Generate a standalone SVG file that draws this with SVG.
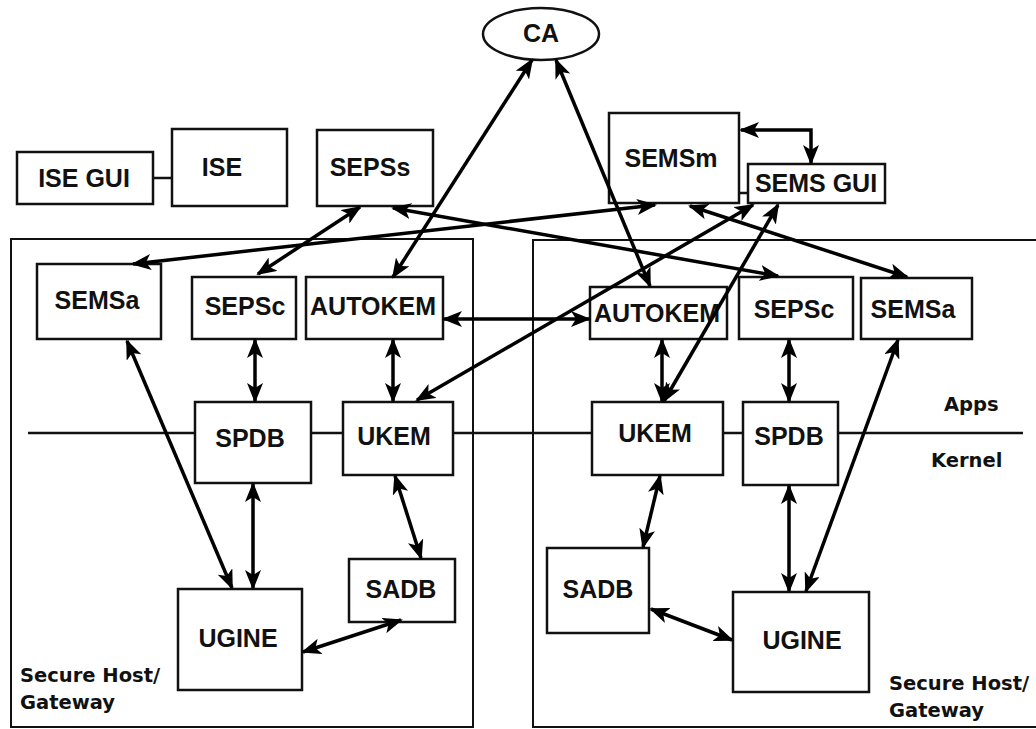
<svg xmlns="http://www.w3.org/2000/svg" width="1036" height="729" viewBox="0 0 1036 729">
  <defs>
    <marker id="arr" viewBox="0 0 20 16" refX="18" refY="8" markerWidth="20" markerHeight="16" markerUnits="userSpaceOnUse" orient="auto-start-reverse">
      <path d="M0,0 L20,8 L0,16 L5,8 Z" fill="#000"/>
    </marker>
    <style>
      .box { fill: #fff; stroke: #111; stroke-width: 2.5; }
      .zone { fill: none; stroke: #111; stroke-width: 2; }
      .lbl { font-family: "Liberation Sans", Arial, sans-serif; font-weight: bold; font-size: 25px; fill: #111; text-anchor: middle; }
      .note { font-family: "DejaVu Sans", Verdana, sans-serif; font-weight: bold; font-size: 19.5px; fill: #111; }
      .con { fill: none; stroke: #000; stroke-width: 3.5; marker-start: url(#arr); marker-end: url(#arr); }
      .plain { fill: none; stroke: #111; stroke-width: 2.5; }
    </style>
  </defs>

  <rect width="1036" height="729" fill="#fff"/>

  <!-- host / gateway zones -->
  <g id="zone-left">
    <rect class="zone" x="11" y="239" width="462" height="488"/>
    <text class="note" x="20" y="682">Secure Host/</text>
    <text class="note" x="20" y="709">Gateway</text>
  </g>
  <g id="zone-right">
    <rect class="zone" x="533" y="240" width="510" height="487"/>
    <text class="note" x="889" y="690">Secure Host/</text>
    <text class="note" x="889" y="717">Gateway</text>
  </g>

  <!-- apps / kernel boundary -->
  <g id="boundary">
    <line class="plain" x1="28" y1="433" x2="1023" y2="433"/>
    <text class="note" x="944" y="411">Apps</text>
    <text class="note" x="931" y="467">Kernel</text>
  </g>

  <!-- management nodes -->
  <g id="ca">
    <ellipse cx="541" cy="34" rx="58" ry="26" fill="#fff" stroke="#111" stroke-width="2.5"/>
    <text class="lbl" x="541" y="42" font-size="23">CA</text>
  </g>
  <g id="ise-gui">
    <rect class="box" x="17" y="152" width="136" height="52"/>
    <text class="lbl" x="84" y="187" font-size="26">ISE GUI</text>
  </g>
  <g id="ise">
    <rect class="box" x="172" y="129" width="115" height="77"/>
    <text class="lbl" x="222" y="176" font-size="26">ISE</text>
  </g>
  <g id="sepss">
    <rect class="box" x="317" y="130" width="116" height="76"/>
    <text class="lbl" x="370" y="176" font-size="26">SEPSs</text>
  </g>
  <g id="semsm">
    <rect class="box" x="609" y="113" width="130" height="90"/>
    <text class="lbl" x="671" y="167">SEMSm</text>
  </g>
  <g id="sems-gui">
    <rect class="box" x="748" y="164" width="137" height="39"/>
    <text class="lbl" x="816" y="192">SEMS GUI</text>
  </g>

  <!-- left host nodes -->
  <g id="semsa-l">
    <rect class="box" x="37" y="264" width="124" height="75"/>
    <text class="lbl" x="97" y="309">SEMSa</text>
  </g>
  <g id="sepsc-l">
    <rect class="box" x="192" y="277" width="104" height="62"/>
    <text class="lbl" x="245" y="315">SEPSc</text>
  </g>
  <g id="autokem-l">
    <rect class="box" x="306" y="277" width="137" height="62"/>
    <text class="lbl" x="373" y="315">AUTOKEM</text>
  </g>
  <g id="spdb-l">
    <rect class="box" x="195" y="402" width="116" height="81"/>
    <text class="lbl" x="250" y="447">SPDB</text>
  </g>
  <g id="ukem-l">
    <rect class="box" x="343" y="402" width="110" height="73"/>
    <text class="lbl" x="394" y="445">UKEM</text>
  </g>
  <g id="sadb-l">
    <rect class="box" x="349" y="559" width="106" height="63"/>
    <text class="lbl" x="401" y="598">SADB</text>
  </g>
  <g id="ugine-l">
    <rect class="box" x="178" y="589" width="124" height="101"/>
    <text class="lbl" x="238" y="647">UGINE</text>
  </g>

  <!-- right host nodes -->
  <g id="autokem-r">
    <rect class="box" x="590" y="287" width="137" height="52"/>
    <text class="lbl" x="657" y="322">AUTOKEM</text>
  </g>
  <g id="sepsc-r">
    <rect class="box" x="739" y="277" width="114" height="62"/>
    <text class="lbl" x="794" y="318">SEPSc</text>
  </g>
  <g id="semsa-r">
    <rect class="box" x="861" y="278" width="111" height="61"/>
    <text class="lbl" x="913" y="318">SEMSa</text>
  </g>
  <g id="ukem-r">
    <rect class="box" x="592" y="402" width="131" height="73"/>
    <text class="lbl" x="655" y="442">UKEM</text>
  </g>
  <g id="spdb-r">
    <rect class="box" x="743" y="402" width="95" height="83"/>
    <text class="lbl" x="789" y="445">SPDB</text>
  </g>
  <g id="sadb-r">
    <rect class="box" x="547" y="548" width="102" height="85"/>
    <text class="lbl" x="598" y="598">SADB</text>
  </g>
  <g id="ugine-r">
    <rect class="box" x="733" y="592" width="136" height="100"/>
    <text class="lbl" x="802" y="649">UGINE</text>
  </g>

  <!-- connectors -->
  <g id="connectors">
    <line class="plain" x1="153" y1="178" x2="172" y2="178"/>
    <line class="plain" x1="739" y1="193" x2="748" y2="193"/>
    <path class="con" d="M741,130 H811 V163"/>

    <line class="con" x1="532" y1="60" x2="393" y2="277"/>
    <line class="con" x1="556" y1="60" x2="650" y2="286"/>
    <line class="con" x1="360" y1="207" x2="258" y2="274"/>
    <line class="con" x1="655" y1="205" x2="133" y2="264"/>
    <line class="con" x1="393" y1="208" x2="778" y2="276"/>
    <line class="con" x1="690" y1="206" x2="907" y2="277"/>
    <line class="con" x1="753" y1="205" x2="417" y2="400"/>
    <line class="con" x1="778" y1="205" x2="664" y2="401"/>
    <line class="con" x1="444" y1="319" x2="589" y2="319"/>

    <line class="con" x1="255" y1="340" x2="255" y2="401"/>
    <line class="con" x1="393" y1="340" x2="393" y2="401"/>
    <line class="con" x1="127" y1="341" x2="232" y2="588"/>
    <line class="con" x1="253" y1="484" x2="253" y2="588"/>
    <line class="con" x1="395" y1="476" x2="421" y2="558"/>
    <line class="con" x1="303" y1="652" x2="401" y2="620"/>

    <line class="con" x1="662" y1="340" x2="662" y2="401"/>
    <line class="con" x1="789" y1="340" x2="789" y2="401"/>
    <line class="con" x1="898" y1="340" x2="806" y2="591"/>
    <line class="con" x1="789" y1="486" x2="789" y2="591"/>
    <line class="con" x1="660" y1="476" x2="643" y2="547"/>
    <line class="con" x1="651" y1="609" x2="732" y2="640"/>
  </g>
</svg>
